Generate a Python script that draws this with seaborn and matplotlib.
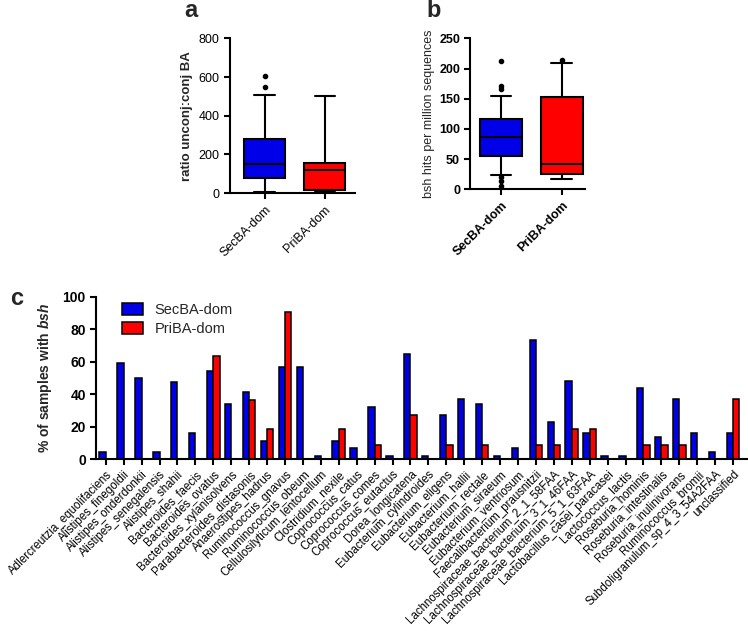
import numpy as np
import pandas as pd
import matplotlib.pyplot as plt
import seaborn as sns

sns.set_theme(style='ticks')
plt.rcParams['font.family'] = ['Liberation Sans', 'DejaVu Sans']
plt.rcParams['mathtext.fontset'] = 'custom'
plt.rcParams['mathtext.bfit'] = 'Liberation Sans:italic:bold'
plt.rcParams['axes.linewidth'] = 1.5
plt.rcParams['axes.edgecolor'] = 'black'

groups = ['SecBA-dom', 'PriBA-dom']
palette = {'SecBA-dom': '#0000e8', 'PriBA-dom': '#ff0000'}

# ── Panel a: ratio unconj:conj BA (box summary) ──
ratio_whislo = [5, 12]
ratio_q1 = [78, 18]
ratio_med = [149, 121]
ratio_q3 = [282, 157]
ratio_whishi = [506, 501]
ratio_fliers = [[551, 605], []]

# ── Panel b: bsh hits per million sequences ──
bsh_whislo = [24, 17]
bsh_q1 = [56, 25]
bsh_med = [86, 42]
bsh_q3 = [116, 153]
bsh_whishi = [155, 210]
bsh_fliers = [[213, 171, 166, 21, 13, 5], [214]]

# ── Panel c: % of samples with bsh ──
species = [
    'Adlercreutzia_equolifaciens', 'Alistipes_finegoldii', 'Alistipes_onderdonkii',
    'Alistipes_senegalensis', 'Alistipes_shahii', 'Bacteroides_faecis',
    'Bacteroides_ovatus', 'Bacteroides_xylanisolvens', 'Parabacteroides_distasonis',
    'Anaerostipes_hadrus', 'Ruminococcus_gnavus', 'Ruminococcus_obeum',
    'Cellulosilyticum_lentocellum', 'Clostridium_nexile', 'Coprococcus_catus',
    'Coprococcus_comes', 'Coprococcus_eutactus', 'Dorea_longicatena',
    'Eubacterium_cylindroides', 'Eubacterium_eligens', 'Eubacterium_hallii',
    'Eubacterium_rectale', 'Eubacterium_siraeum', 'Eubacterium_ventriosum',
    'Faecalibacterium_prausnitzii', 'Lachnospiraceae_bacterium_2_1_58FAA',
    'Lachnospiraceae_bacterium_3_1_46FAA', 'Lachnospiraceae_bacterium_5_1_63FAA',
    'Lactobacillus_casei_paracasei', 'Lactococcus_lactis', 'Roseburia_hominis',
    'Roseburia_intestinalis', 'Roseburia_inulinivorans', 'Ruminococcus_bromii',
    'Subdoligranulum_sp_4_3_54A2FAA', 'unclassified',
]
sec_pct = [4.5, 59.5, 50, 4.5, 47.7, 16.2, 54.5, 34, 41.2, 11.3, 56.8, 57,
           2.2, 11, 6.7, 32, 2.2, 64.8, 2.2, 27.3, 36.9, 34.2, 2.2, 6.7,
           73.6, 23.1, 48.1, 16, 2.2, 2.2, 43.7, 13.7, 36.9, 16, 4.4, 16]
pri_pct = [0, 0, 0, 0, 0, 0, 63.7, 0, 36.7, 18.5, 90.8, 0,
           0, 18.5, 0, 8.8, 0, 27.3, 0, 8.8, 0, 8.8, 0, 0,
           8.8, 8.8, 18.5, 18.5, 0, 0, 8.8, 8.8, 8.8, 0, 0, 36.9]

df = pd.DataFrame({
    'species': species * 2,
    'group': ['SecBA-dom'] * len(species) + ['PriBA-dom'] * len(species),
    'pct': sec_pct + pri_pct,
})

fig = plt.figure(figsize=(7.48, 6.31), dpi=100)
ax_a = fig.add_axes([0.3075, 0.694, 0.167, 0.245])
ax_b = fig.add_axes([0.629, 0.700, 0.153, 0.239])
ax_c = fig.add_axes([0.1287, 0.272, 0.870, 0.258])


def box_panel(ax, whislo, q1, med, q3, whishi, fliers):
    stats = []
    for i, g in enumerate(groups):
        stats.append(dict(label=g, whislo=whislo[i], q1=q1[i], med=med[i],
                          q3=q3[i], whishi=whishi[i], fliers=fliers[i]))
    bp = ax.bxp(stats, positions=[0, 1], widths=0.68, patch_artist=True,
                boxprops=dict(linewidth=1.5, edgecolor='black'),
                medianprops=dict(color='black', linewidth=1.5),
                whiskerprops=dict(color='black', linewidth=1.5),
                capprops=dict(color='black', linewidth=1.5),
                flierprops=dict(marker='o', markersize=3, markerfacecolor='black',
                                markeredgecolor='black'))
    for patch, g in zip(bp['boxes'], groups):
        patch.set_facecolor(palette[g])
    sns.despine(ax=ax)
    ax.tick_params(axis='both', direction='out', length=4, width=1.5,
                   colors='black', labelsize=9)
    ax.set_xticks([0, 1])


box_panel(ax_a, ratio_whislo, ratio_q1, ratio_med, ratio_q3, ratio_whishi, ratio_fliers)
ax_a.set_ylim(0, 800)
ax_a.set_yticks([0, 200, 400, 600, 800])
ax_a.set_xlim(-0.575, 1.5)
ax_a.set_xticklabels(groups, rotation=45, ha='right', rotation_mode='anchor')
ax_a.set_ylabel('ratio unconj:conj BA', fontsize=9.5, fontweight='bold', labelpad=4)

box_panel(ax_b, bsh_whislo, bsh_q1, bsh_med, bsh_q3, bsh_whishi, bsh_fliers)
ax_b.set_ylim(0, 250)
ax_b.set_yticks([0, 50, 100, 150, 200, 250])
ax_b.set_xlim(-0.5, 1.38)
ax_b.set_xticklabels(groups, rotation=45, ha='right', rotation_mode='anchor',
                     fontweight='bold')
for t in ax_b.get_yticklabels():
    t.set_fontweight('bold')
ax_b.set_ylabel('bsh hits per million sequences', fontsize=9, labelpad=3)

# ── Panel c ──
sns.barplot(data=df, x='species', y='pct', hue='group', order=species,
            hue_order=groups, palette=palette, width=0.7, gap=0,
            edgecolor='black', linewidth=1.1, saturation=1, ax=ax_c)
sns.despine(ax=ax_c)
ax_c.set_ylim(0, 100)
ax_c.set_yticks([0, 20, 40, 60, 80, 100])
ax_c.set_xlim(-0.53, 35.78)
ax_c.set_xlabel('')
ax_c.set_ylabel(r'% of samples with $\mathbfit{bsh}$', fontsize=10,
                fontweight='bold', labelpad=6)
ax_c.tick_params(axis='both', direction='out', length=4, width=1.5, colors='black')
ax_c.tick_params(axis='y', labelsize=10)
ax_c.tick_params(axis='x', pad=2.5)
for t in ax_c.get_yticklabels():
    t.set_fontweight('bold')
ax_c.set_xticks(range(len(species)))
ax_c.set_xticklabels(species, rotation=45, ha='right', rotation_mode='anchor',
                     fontsize=8.3)
ax_c.legend(title=None, frameon=False, loc='upper left',
            bbox_to_anchor=(0.02, 1.04), fontsize=10.5, handlelength=1.4,
            handleheight=0.9, handletextpad=0.8, labelspacing=0.35)

fig.text(0.246, 0.973, 'a', fontsize=17, fontweight='bold')
fig.text(0.570, 0.973, 'b', fontsize=17, fontweight='bold')
fig.text(0.013, 0.517, 'c', fontsize=17, fontweight='bold')

fig.savefig('out.png', dpi=100)
